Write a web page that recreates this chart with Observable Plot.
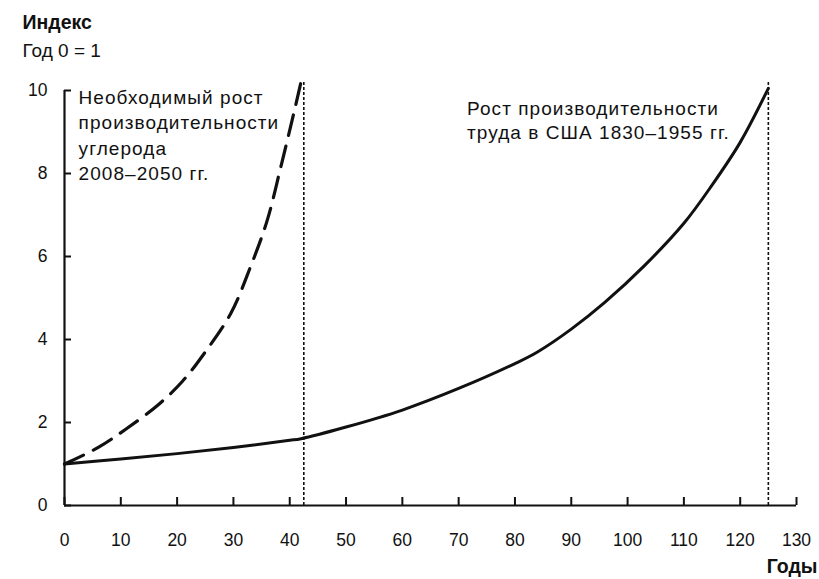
<!DOCTYPE html>
<html>
<head>
<meta charset="utf-8">
<script src="https://cdn.jsdelivr.net/npm/d3@7"></script>
<script src="https://cdn.jsdelivr.net/npm/@observablehq/plot@0.6"></script>
<style>
  html, body { margin: 0; padding: 0; background: #fff; }
  #chart svg { display: block; }
</style>
</head>
<body>
<div id="chart"></div>
<script>
// --- Data ---
const usYears   = [0, 10, 20, 30, 40, 42, 50, 60, 70, 80, 84, 90, 96, 103, 110, 115, 120, 125];
const usIndex   = [1, 1.12, 1.25, 1.4, 1.57, 1.61, 1.89, 2.3, 2.82, 3.42, 3.7, 4.25, 4.9, 5.78, 6.8, 7.72, 8.75, 10.05];

const carbonYears = [0, 6, 11, 16.5, 21, 25, 29.5, 33, 36, 38.4, 40.7, 42];
const carbonIndex = [1, 1.4, 1.85, 2.41, 3.0, 3.7, 4.62, 5.74, 6.87, 8.15, 9.44, 10.2];

const markerYears = [42.5, 125];
const xTicks = [0, 10, 20, 30, 40, 50, 60, 70, 80, 90, 100, 110, 120, 130];
const yTicks = [0, 2, 4, 6, 8, 10];

const titleText = "Индекс";
const subtitleText = "Год 0 = 1";
const xLabelText = "Годы";
const carbonLabel = "Необходимый рост\nпроизводительности\nуглерода\n2008–2050 гг.";
const usLabel = "Рост производительности\nтруда в США 1830–1955 гг.";

const us = usYears.map((x, i) => ({x, y: usIndex[i]}));
const carbon = carbonYears.map((x, i) => ({x, y: carbonIndex[i]}));

const font = "'Liberation Sans', Arial, Helvetica, sans-serif";

const chart = Plot.plot({
  width: 819,
  height: 579,
  marginLeft: 64,
  marginRight: 23,
  marginTop: 90,
  marginBottom: 74,
  style: {fontFamily: font, fontSize: "17.5px", color: "#111", background: "#fff"},
  x: {domain: [0, 130]},
  y: {domain: [0, 10]},
  marks: [
    // axis labels
    Plot.axisX({ticks: xTicks, tickSize: 0, tickPadding: 28, label: null, fontSize: 17.5}),
    Plot.axisY({ticks: yTicks, tickSize: 0, tickPadding: 17, label: null, fontSize: 17.5}),
    // inward tick marks (drawn by the axis, shifted inside the frame)
    Plot.axisX({ticks: xTicks, tickSize: 8, dy: -8, tickFormat: () => "", label: null, stroke: "#111", strokeWidth: 2}),
    Plot.axisY({ticks: yTicks, tickSize: 7, dx: 7, tickFormat: () => "", label: null, stroke: "#111", strokeWidth: 2}),
    // axis lines
    Plot.ruleY([0], {x1: 0, x2: 130, stroke: "#111", strokeWidth: 2.2}),
    Plot.ruleX([0], {y1: 0, y2: 10, stroke: "#111", strokeWidth: 2.2}),
    // dotted markers
    Plot.ruleX(markerYears, {y1: 0, y2: 10.2, stroke: "#111", strokeWidth: 1.6, strokeDasharray: "3,2"}),
    // curves
    Plot.line(us, {x: "x", y: "y", curve: "catmull-rom", stroke: "#111", strokeWidth: 3}),
    Plot.line(carbon, {x: "x", y: "y", curve: "catmull-rom", stroke: "#111", strokeWidth: 3.2, strokeDasharray: "21,11"}),
    // annotations
    Plot.text([carbonLabel], {x: 2.5, y: 10.12, text: d => d, textAnchor: "start", lineAnchor: "top", lineHeight: 1.34, fontSize: 19, fill: "#111"}),
    Plot.text([usLabel], {x: 71.5, y: 9.84, text: d => d, textAnchor: "start", lineAnchor: "top", lineHeight: 1.29, fontSize: 19, fill: "#111"}),
    // titles
    Plot.text([titleText], {frameAnchor: "top-left", dx: -42, dy: -68, textAnchor: "start", lineAnchor: "middle", fontWeight: "bold", fontSize: 19.5, fill: "#111"}),
    Plot.text([subtitleText], {frameAnchor: "top-left", dx: -42, dy: -40, textAnchor: "start", lineAnchor: "middle", fontSize: 19, fill: "#111"}),
    Plot.text([xLabelText], {frameAnchor: "bottom-right", dx: 21, dy: 61, textAnchor: "end", lineAnchor: "middle", fontWeight: "bold", fontSize: 19.5, fill: "#111"})
  ]
});
// widen the annotation lettering to match the reference
d3.select(chart).selectAll("text").filter(function () {
  return this.textContent.includes("производительности");
}).style("letter-spacing", "1.05px");
document.getElementById("chart").appendChild(chart);
</script>
</body>
</html>
